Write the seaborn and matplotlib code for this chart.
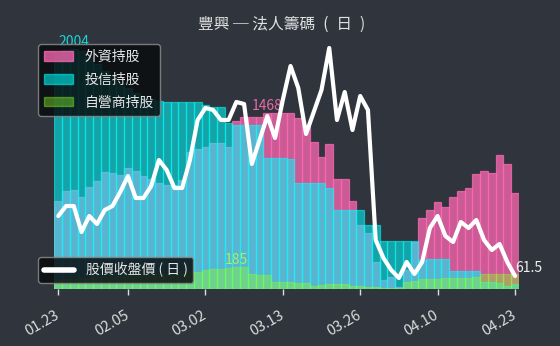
import numpy as np
import pandas as pd
import matplotlib
matplotlib.use("Agg")
import matplotlib.pyplot as plt
import seaborn as sns
from matplotlib.patches import Patch
from matplotlib.lines import Line2D

sns.set_style("white")
plt.rcParams['font.family'] = ['Noto Sans CJK TC', 'DejaVu Sans']

dates = ["01.23", "01.26", "01.27", "01.28", "01.29", "01.30", "02.02", "02.03", "02.04", "02.05",
         "02.06", "02.09", "02.10", "02.11", "02.12", "02.23", "02.24", "02.25", "02.26", "03.02",
         "03.03", "03.04", "03.05", "03.06", "03.07", "03.09", "03.10", "03.11", "03.12", "03.13",
         "03.16", "03.17", "03.18", "03.19", "03.20", "03.21", "03.23", "03.24", "03.25", "03.26",
         "03.27", "03.30", "03.31", "04.01", "04.02", "04.06", "04.07", "04.08", "04.09", "04.10",
         "04.13", "04.14", "04.15", "04.16", "04.17", "04.18", "04.20", "04.21", "04.22", "04.23"]

foreign = [734, 818, 826, 770, 857, 908, 983, 975, 958, 1016,
           991, 949, 924, 891, 874, 874, 916, 1150, 1167, 1184,
           1217, 1217, 1184, 1401, 1435, 1435, 1435, 1468, 1468, 1468,
           1468, 1426, 1359, 1228, 1108, 1209, 924, 924, 740, 540,
           473, 230, 80, 105, 20, 163, 397, 598, 665, 732,
           690, 774, 824, 849, 966, 991, 975, 1125, 1050, 807]

trust = [1960, 1995, 2004, 1990, 1940, 1880, 1820, 1770, 1720, 1680,
         1640, 1610, 1590, 1575, 1564, 1564, 1564, 1564, 1564, 1537,
         1523, 1523, 1387, 1370, 1370, 1370, 1370, 1095, 1095, 1095,
         1087, 890, 890, 890, 890, 845, 662, 662, 662, 662,
         537, 537, 404, 404, 404, 404, 404, 246, 254, 254,
         254, 154, 154, 154, 154, 62, 62, 54, 29, 46]

dealer = [80, 85, 90, 92, 95, 100, 102, 105, 110, 112,
          115, 118, 120, 125, 130, 135, 140, 145, 147, 160,
          168, 172, 180, 185, 184, 125, 117, 117, 64, 64,
          64, 54, 54, 26, 34, 47, 47, 47, 26, 26,
          19, 19, 15, 11, 11, 64, 72, 87, 87, 87,
          94, 94, 94, 94, 102, 125, 125, 132, 132, 132]

price = [64.5, 65.0, 65.0, 63.7, 64.5, 64.1, 64.8, 65.0, 65.7, 66.5,
         65.4, 65.4, 66.0, 67.3, 66.8, 65.9, 65.9, 67.3, 69.3, 69.9,
         69.8, 69.3, 69.3, 70.2, 70.1, 67.1, 68.3, 69.5, 68.4, 70.3,
         72.0, 70.9, 68.6, 69.7, 70.8, 72.9, 69.3, 70.7, 68.8, 70.5,
         69.8, 63.3, 62.4, 61.8, 61.4, 62.2, 61.6, 62.2, 63.9, 64.5,
         63.5, 63.2, 64.2, 63.9, 64.3, 63.3, 62.8, 63.1, 62.2, 61.5]

tick_idx = [0, 9, 19, 29, 39, 49, 59]

BG = '#30353d'
PINK = '#ff69b4'
CYAN = '#00ffff'
GREEN = '#8cff2a'

df = pd.DataFrame({'i': np.arange(len(dates)), 'date': dates, 'foreign': foreign,
                   'trust': trust, 'dealer': dealer, 'price': price})

fig = plt.figure(figsize=(5.6, 3.46), dpi=100, facecolor=BG)
ax = fig.add_axes([0.0972, 0.1633, 0.8294, 0.7269])
ax.set_facecolor(BG)

specs = [('foreign', PINK, 0.75, '外資持股'),
         ('trust', CYAN, 0.55, '投信持股'),
         ('dealer', GREEN, 0.4, '自營商持股')]
for col, c, a, lab in specs:
    sns.barplot(data=df, x='i', y=col, ax=ax, color=c, alpha=a, width=1.0,
                saturation=1, errorbar=None, edgecolor=c, linewidth=0.9,
                native_scale=True, label=lab, legend=False)

ax.set_xlim(-0.5, len(dates) - 0.5)
ax.set_ylim(0, 2096)
ax.set_yticks([])
ax.set_xlabel('')
ax.set_ylabel('')
for s in ax.spines.values():
    s.set_visible(False)

ax.set_xticks(tick_idx)
ax.set_xticklabels([dates[k] for k in tick_idx], rotation=30, ha='right', va='center',
                   rotation_mode='anchor', color='#dcdcdc', fontsize=10.5)
ax.tick_params(axis='x', colors='#dcdcdc', length=4, width=1, pad=14, direction='out', bottom=True)
for lbl in ax.get_xticklabels():
    lbl.set_color('#dcdcdc')

# max labels
for col, c in [('foreign', '#e868a8'), ('trust', '#19d3d3'), ('dealer', '#a6f060')]:
    vals = df[col].to_numpy()
    k = int(np.argmax(vals))
    ax.text(k, vals[k], str(vals[k]), color=c, ha='center', va='bottom', fontsize=10)

ax2 = ax.twinx()
sns.lineplot(data=df, x='i', y='price', ax=ax2, color='white', linewidth=3, legend=False)
ax2.set_ylim(60.825, 73.4)
ax2.set_yticks([])
ax2.set_xlabel('')
ax2.set_ylabel('')
for s in ax2.spines.values():
    s.set_visible(False)
ax2.set_xlim(-0.5, len(dates) - 0.5)
ax2.text(len(dates) - 1 + 0.05, price[-1] + 0.05, f"{price[-1]}", color='#eeeeee',
         ha='left', va='bottom', fontsize=10)

# legends
h1 = [Patch(facecolor=c, edgecolor=c, alpha=a) for _, c, a, _ in specs]
l1 = [lab for *_, lab in specs]
leg1 = ax2.legend(h1, l1, loc='upper left', bbox_to_anchor=(0.068, 0.873),
                  bbox_transform=fig.transFigure, borderaxespad=0, fontsize=10,
                  handlelength=2.1, handleheight=0.7, handletextpad=0.8, labelspacing=0.62,
                  frameon=True, facecolor='#0a0c0e', edgecolor='#8a8a8a', framealpha=0.85,
                  labelcolor='#e6e6e6', borderpad=0.45)
leg1.get_frame().set_linewidth(1.0)
ax2.add_artist(leg1)
h2 = [Line2D([0], [0], color='white', linewidth=4)]
leg2 = ax2.legend(h2, ['股價收盤價 ( 日 )'], loc='lower left', bbox_to_anchor=(0.068, 0.182),
                  bbox_transform=fig.transFigure, borderaxespad=0, fontsize=10,
                  handlelength=2.2, handletextpad=0.85, frameon=True, facecolor='#0a0c0e',
                  edgecolor='#8a8a8a', framealpha=0.85, labelcolor='#e6e6e6', borderpad=0.4)
leg2.get_frame().set_linewidth(1.0)

fig.text(0.503, 0.931, '豐興 ─ 法人籌碼\u2002(\u2002日\u2002)', ha='center', va='center',
         fontsize=11.3, color='#e0e0e0')

fig.savefig('out.png', dpi=100, facecolor=BG)
